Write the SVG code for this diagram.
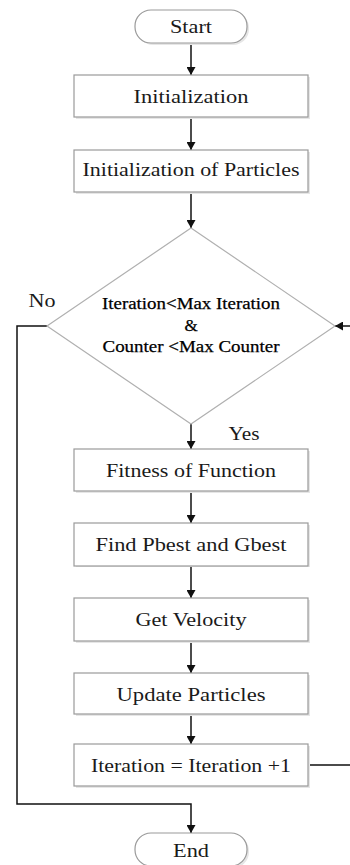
<svg xmlns="http://www.w3.org/2000/svg" width="350" height="865" viewBox="0 0 350 865">
<style>
.box{fill:#fff;stroke:#9a9a9a;stroke-width:1.2}
.shadow{fill:#e6e6e6;stroke:none}
.dia{fill:#fff;stroke:#b0b0b0;stroke-width:1.2}
.t{font-family:"Liberation Serif","Times New Roman",serif;font-size:18px;fill:#1a1a1a;text-anchor:middle}
.d{font-family:"Liberation Serif","Times New Roman",serif;font-size:17px;fill:#000;text-anchor:middle;stroke:#000;stroke-width:0.25}
.c{fill:none;stroke:#111;stroke-width:1.5}
</style>
<defs>
<marker id="ah" markerUnits="userSpaceOnUse" markerWidth="8" markerHeight="9" refX="8" refY="4.5" orient="auto">
<path d="M0,0 L8,4.5 L0,9 z" fill="#111"/>
</marker>
</defs>
<rect width="350" height="865" fill="#fff"/>
<g id="connectors">
<line class="c" x1="191" y1="43" x2="191" y2="75" marker-end="url(#ah)"/>
<line class="c" x1="191" y1="117" x2="191" y2="150" marker-end="url(#ah)"/>
<line class="c" x1="191" y1="192" x2="191" y2="228" marker-end="url(#ah)"/>
<line class="c" x1="191" y1="424" x2="191" y2="449" marker-end="url(#ah)"/>
<line class="c" x1="191" y1="491" x2="191" y2="523" marker-end="url(#ah)"/>
<line class="c" x1="191" y1="566" x2="191" y2="598" marker-end="url(#ah)"/>
<line class="c" x1="191" y1="641" x2="191" y2="673" marker-end="url(#ah)"/>
<line class="c" x1="191" y1="714" x2="191" y2="744" marker-end="url(#ah)"/>
<polyline class="c" points="308,765 352,765 352,326 335,326" marker-end="url(#ah)"/>
<polyline class="c" points="47,326 17,326 17,804 191,804 191,833" marker-end="url(#ah)"/>
</g>
<g id="start">
<rect class="shadow" x="137" y="12" width="112" height="33" rx="16"/>
<rect class="box" x="135" y="10" width="112" height="33" rx="16"/>
<text class="t" x="191" y="33" textLength="42" lengthAdjust="spacingAndGlyphs">Start</text>
</g>
<g id="init">
<rect class="shadow" x="76" y="77" width="234" height="42"/>
<rect class="box" x="74" y="75" width="234" height="42"/>
<text class="t" x="191" y="103" textLength="115" lengthAdjust="spacingAndGlyphs">Initialization</text>
</g>
<g id="initparticles">
<rect class="shadow" x="76" y="152" width="234" height="42"/>
<rect class="box" x="74" y="150" width="234" height="42"/>
<text class="t" x="191" y="176" textLength="217" lengthAdjust="spacingAndGlyphs">Initialization of Particles</text>
</g>
<g id="decision">
<polygon class="dia" points="191,228 335,326 191,424 47,326"/>
<text class="d" x="191" y="309" textLength="178" lengthAdjust="spacingAndGlyphs">Iteration&lt;Max Iteration</text>
<text class="d" x="191" y="331">&amp;</text>
<text class="d" x="191" y="352" textLength="177" lengthAdjust="spacingAndGlyphs">Counter &lt;Max Counter</text>
<text class="t" x="42" y="307" textLength="27" lengthAdjust="spacingAndGlyphs">No</text>
<text class="t" x="244" y="440" textLength="31" lengthAdjust="spacingAndGlyphs">Yes</text>
</g>
<g id="fitness">
<rect class="shadow" x="76" y="451" width="234" height="42"/>
<rect class="box" x="74" y="449" width="234" height="42"/>
<text class="t" x="191" y="477" textLength="170" lengthAdjust="spacingAndGlyphs">Fitness of Function</text>
</g>
<g id="pbest">
<rect class="shadow" x="76" y="525" width="234" height="42"/>
<rect class="box" x="74" y="523" width="234" height="43"/>
<text class="t" x="191" y="551" textLength="191" lengthAdjust="spacingAndGlyphs">Find Pbest and Gbest</text>
</g>
<g id="velocity">
<rect class="shadow" x="76" y="600" width="234" height="43"/>
<rect class="box" x="74" y="598" width="234" height="43"/>
<text class="t" x="191" y="626" textLength="111" lengthAdjust="spacingAndGlyphs">Get Velocity</text>
</g>
<g id="update">
<rect class="shadow" x="76" y="675" width="234" height="41"/>
<rect class="box" x="74" y="673" width="234" height="41"/>
<text class="t" x="191" y="701" textLength="149" lengthAdjust="spacingAndGlyphs">Update Particles</text>
</g>
<g id="iterate">
<rect class="shadow" x="76" y="746" width="234" height="42"/>
<rect class="box" x="74" y="744" width="234" height="42"/>
<text class="t" x="191" y="772" textLength="200" lengthAdjust="spacingAndGlyphs">Iteration = Iteration +1</text>
</g>
<g id="end">
<rect class="shadow" x="137" y="835" width="112" height="33" rx="16"/>
<rect class="box" x="135" y="833" width="112" height="33" rx="16"/>
<text class="t" x="191" y="857" textLength="36" lengthAdjust="spacingAndGlyphs">End</text>
</g>
</svg>
